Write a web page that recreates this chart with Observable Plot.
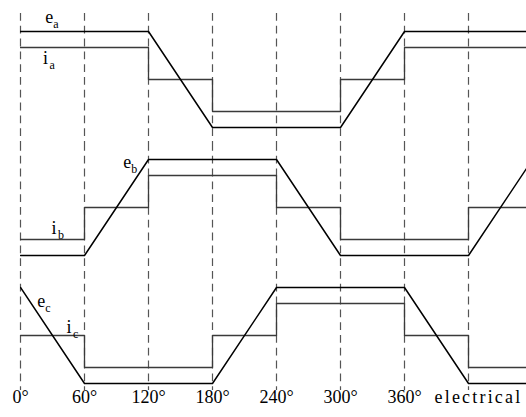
<!DOCTYPE html>
<html>
<head>
<meta charset="utf-8">
<script src="https://cdn.jsdelivr.net/npm/d3@7"></script>
<script src="https://cdn.jsdelivr.net/npm/@observablehq/plot@0.6"></script>
<style>
  html, body { margin: 0; padding: 0; background: #fff; }
  #chart svg { display: block; }
</style>
</head>
<body>
<div id="chart"></div>
<script>
// Phases (one panel each)
const phases = ["a", "b", "c"];
// Electrical angle at the sector boundaries (degrees)
const boundaries = [0, 60, 120, 180, 240, 300, 360, 420, 480];
// Start of each 60° sector
const sectorStarts = [0, 60, 120, 180, 240, 300, 360, 420];
// Trapezoidal back-EMF at each boundary (normalised, peak = 1)
const eA = [1, 1, 1, -1, -1, -1, 1, 1, 1];
const eB = [-1, -1, 1, 1, 1, -1, -1, -1, 1];
const eC = [1, -1, -1, -1, 1, 1, 1, -1, -1];
// Phase current in each sector (sign: +1, 0, -1)
const iA = [1, 1, 0, -1, -1, 0, 1, 1];
const iB = [-1, 0, 1, 1, 0, -1, -1, 0];
const iC = [0, -1, -1, 0, 1, 1, 0, -1];
// Current amplitude relative to EMF peak
const iAmplitude = 2 / 3;
// Dashed grid angles and tick labels
const gridAngles = [0, 60, 120, 180, 240, 300, 360, 420];
const tickAngles = [0, 60, 120, 180, 240, 300, 360];
const tickLabels = ["0°", "60°", "120°", "180°", "240°", "300°", "360°"];
const axisName = "electrical";
// Curve labels: [phase, symbol, subscript, angle, value]
const labelRows = [
  ["a", "e", "a", 27, 1.18],
  ["a", "i", "a", 23.5, 0.32],
  ["b", "e", "b", 100, 0.82],
  ["b", "i", "b", 31.5, -0.55],
  ["c", "e", "c", 19.5, 0.6],
  ["c", "i", "c", 45.5, 0.05]
];

const emf = [];
[eA, eB, eC].forEach((arr, k) => arr.forEach((v, j) => emf.push({phase: phases[k], angle: boundaries[j], value: v})));
const cur = [];
[iA, iB, iC].forEach((arr, k) => {
  arr.forEach((v, j) => cur.push({phase: phases[k], angle: sectorStarts[j], value: v * iAmplitude}));
  cur.push({phase: phases[k], angle: boundaries[boundaries.length - 1], value: arr[arr.length - 1] * iAmplitude});
});
const labels = labelRows.map(([phase, sym, sub, angle, value]) => ({phase, sym, sub, angle, value}));
const ticks = tickAngles.map((a, j) => ({angle: a, label: tickLabels[j], phase: "c"}));

const serif = "'Liberation Serif', 'DejaVu Serif', serif";
const gridColor = "#555";
const dash = "7.8,5";

const chart = Plot.plot({
  width: 526,
  height: 417,
  marginLeft: 20,
  marginRight: 0,
  marginTop: 14.5,
  marginBottom: 18.5,
  style: {fontFamily: serif, background: "#fff", overflow: "visible"},
  x: {domain: [0, 474.375], axis: null},
  y: {domain: [-4 / 3, 4 / 3], axis: null},
  fy: {domain: phases, axis: null, padding: 0},
  marks: [
    Plot.ruleX(gridAngles, {x: d => d, fy: () => "a", stroke: gridColor, strokeWidth: 1.2, strokeDasharray: dash, insetTop: -2}),
    Plot.ruleX(gridAngles, {x: d => d, fy: () => "b", stroke: gridColor, strokeWidth: 1.2, strokeDasharray: dash}),
    Plot.ruleX(gridAngles, {x: d => d, fy: () => "c", stroke: gridColor, strokeWidth: 1.2, strokeDasharray: dash, insetBottom: 9}),
    Plot.line(cur, {x: "angle", y: "value", fy: "phase", curve: "step-after", stroke: "#3a3a3a", strokeWidth: 1.3, clip: true}),
    Plot.line(emf, {x: "angle", y: "value", fy: "phase", stroke: "#000", strokeWidth: 1.5, clip: true}),
    Plot.text(labels, {x: "angle", y: "value", fy: "phase", text: "sym", fontSize: 18, textAnchor: "middle", lineAnchor: "bottom", fill: "#000"}),
    Plot.text(labels, {x: "angle", y: "value", fy: "phase", text: "sub", fontSize: 12, textAnchor: "start", lineAnchor: "bottom", dx: 4, dy: 5, fill: "#000"}),
    Plot.text(ticks, {x: "angle", fy: "phase", text: "label", frameAnchor: "bottom", lineAnchor: "bottom", dy: 3, fontSize: 18, fill: "#000"}),
    Plot.text([axisName], {x: () => 360, fy: () => "c", text: d => d, frameAnchor: "bottom", lineAnchor: "bottom", dy: 3, dx: 30, textAnchor: "start", fontSize: 18, fill: "#000"})
  ]
});
d3.select(chart).selectAll("text").filter(function() { return this.textContent === axisName; }).attr("letter-spacing", "2.2");
document.getElementById("chart").appendChild(chart);
</script>
</body>
</html>
